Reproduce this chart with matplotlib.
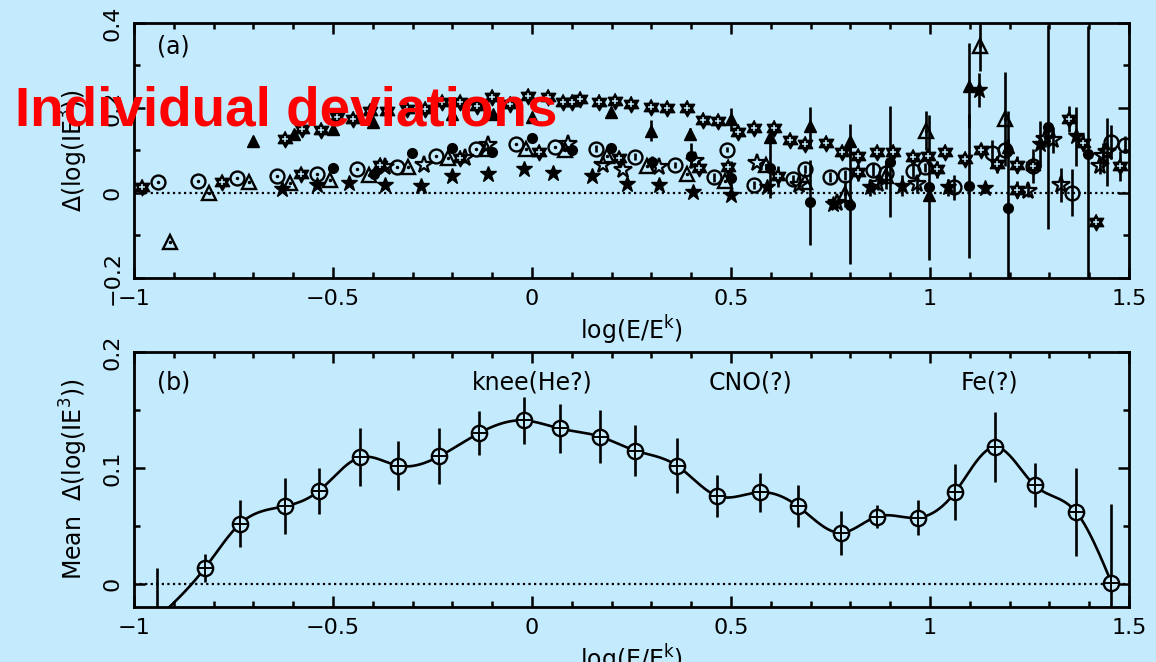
import numpy as np
import matplotlib.pyplot as plt
from matplotlib.ticker import MultipleLocator

plt.rcParams['font.family'] = ['DejaVu Sans']
plt.rcParams['mathtext.fontset'] = 'dejavusans'

BG = '#C3EBFD'

# ---- panel (a): individual deviations, one list per marker type ----
hex_x = [-0.981, -0.780, -0.621, -0.581, -0.579, -0.530, -0.491, -0.451, -0.407, -0.382,
         -0.365, -0.315, -0.269, -0.227, -0.181, -0.181, -0.139, -0.101, -0.055, -0.009,
         0.018, 0.041, 0.079, 0.100, 0.121, 0.169, 0.209, 0.219, 0.249, 0.299,
         0.338, 0.389, 0.420, 0.429, 0.468, 0.493, 0.518, 0.559, 0.609, 0.619,
         0.647, 0.686, 0.739, 0.778, 0.820, 0.820, 0.868, 0.908, 0.958, 0.996,
         1.017, 1.038, 1.088, 1.128, 1.168, 1.218, 1.218, 1.258, 1.348, 1.385,
         1.416, 1.477]
hex_y = [0.013, 0.025, 0.127, 0.045, 0.151, 0.148, 0.178, 0.174, 0.194, 0.066,
         0.194, 0.198, 0.198, 0.215, 0.213, 0.082, 0.205, 0.225, 0.209, 0.229,
         0.096, 0.225, 0.215, 0.213, 0.220, 0.213, 0.217, 0.082, 0.209, 0.202,
         0.200, 0.200, 0.058, 0.172, 0.170, 0.060, 0.144, 0.152, 0.154, 0.039,
         0.125, 0.115, 0.118, 0.097, 0.088, 0.049, 0.097, 0.097, 0.084, 0.088,
         0.056, 0.097, 0.080, 0.102, 0.068, 0.066, 0.008, 0.064, 0.174, 0.118,
         -0.069, 0.063]
hex_err = [0.008, 0, 0, 0, 0, 0, 0, 0, 0, 0,
           0, 0, 0, 0, 0, 0, 0, 0, 0, 0,
           0, 0, 0, 0, 0, 0, 0, 0, 0, 0,
           0, 0, 0, 0, 0, 0, 0, 0, 0, 0.025,
           0, 0, 0, 0, 0.01, 0.02, 0, 0, 0, 0.01,
           0.02, 0, 0.015, 0.015, 0.02, 0.02, 0.02, 0.02, 0.03, 0.02,
           0.01, 0.035]

tri_x = [-0.700, -0.598, -0.501, -0.400, -0.202, -0.097, -0.001, 0.198, 0.299, 0.397,
         0.499, 0.598, 0.698, 0.799, 0.997, 1.099, 1.197]
tri_y = [0.123, 0.139, 0.151, 0.166, 0.186, 0.186, 0.178, 0.190, 0.147, 0.139,
         0.174, 0.131, 0.158, 0.123, -0.005, 0.252, 0.108]
tri_err = [0, 0, 0, 0, 0, 0, 0, 0.012, 0.025, 0.015,
           0.027, 0.01, 0.045, 0.04, 0, 0.1, 0.02]

otri_x = [-0.910, -0.811, -0.710, -0.608, -0.508, -0.409, -0.311, -0.210, -0.116, -0.015,
          0.083, 0.189, 0.288, 0.389, 0.485, 0.588, 0.686, 0.786, 0.889, 0.989,
          1.126, 1.188]
otri_y = [-0.115, -0.001, 0.027, 0.023, 0.031, 0.042, 0.060, 0.082, 0.104, 0.104,
          0.100, 0.088, 0.064, 0.045, 0.029, 0.066, 0.025, -0.002, 0.040, 0.147,
          0.346, 0.174]
otri_err = [0, 0, 0, 0, 0, 0, 0, 0, 0, 0,
            0, 0, 0, 0, 0, 0, 0, 0.03, 0.03, 0.045,
            0.06, 0.11]

dcirc_x = [-0.939, -0.838, -0.740, -0.640, -0.541, -0.440, -0.340, -0.241, -0.141, -0.040,
           0.058]
dcirc_y = [0.027, 0.028, 0.035, 0.039, 0.045, 0.056, 0.060, 0.088, 0.104, 0.115,
           0.108]

ocirc_x = [0.160, 0.260, 0.359, 0.457, 0.489, 0.558, 0.657, 0.686, 0.749, 0.786,
           0.858, 0.889, 0.958, 0.987, 1.060, 1.157, 1.188, 1.258, 1.357, 1.456,
           1.490]
ocirc_y = [0.104, 0.085, 0.066, 0.037, 0.102, 0.019, 0.033, 0.056, 0.037, 0.042,
           0.055, 0.047, 0.052, 0.060, 0.013, 0.094, 0.102, 0.064, 0.001, 0.121,
           0.113]
ocirc_err = [0.008, 0.008, 0.008, 0.01, 0.006, 0.01, 0.01, 0.01, 0.012, 0.012,
             0.015, 0.02, 0.015, 0.01, 0.03, 0.03, 0.02, 0.04, 0.055, 0.04,
             0.02]

fcirc_x = [-0.499, -0.397, -0.302, -0.200, -0.101, -0.001, 0.100, 0.198, 0.301, 0.399,
           0.499, 0.598, 0.698, 0.799, 0.899, 0.997, 1.099, 1.197, 1.297, 1.398]
fcirc_y = [0.058, 0.045, 0.093, 0.107, 0.096, 0.129, 0.100, 0.105, 0.072, 0.088,
           0.035, 0.058, -0.022, -0.028, 0.074, 0.013, 0.017, -0.036, 0.155, 0.092]
fcirc_err = [0, 0, 0, 0, 0, 0, 0, 0.005, 0.015, 0.03,
             0.04, 0.07, 0.10, 0.14, 0.13, 0.17, 0.17, 0.23, 0.24, 0.30]

star_x = [-0.629, -0.541, -0.460, -0.369, -0.280, -0.200, -0.111, -0.020, 0.054, 0.150,
          0.239, 0.320, 0.405, 0.499, 0.590, 0.757, 0.849, 0.929, 1.046, 1.124,
          1.138, 1.276, 1.366]
star_y = [0.009, 0.019, 0.024, 0.019, 0.017, 0.039, 0.045, 0.056, 0.047, 0.041,
          0.021, 0.019, 0.003, -0.005, 0.015, -0.027, 0.013, 0.017, 0.013, 0.243,
          0.011, 0.115, 0.133]
star_err = [0, 0, 0, 0, 0, 0, 0, 0, 0, 0,
            0, 0, 0, 0, 0, 0, 0.02, 0.025, 0.02, 0.04,
            0.01, 0.055, 0.07]

ostar_x = [-0.369, -0.271, -0.168, -0.110, 0.091, 0.179, 0.229, 0.320, 0.410, 0.566,
           0.672, 0.766, 0.870, 0.968, 1.247, 1.289, 1.310, 1.328, 1.427, 1.435,
           1.444]
ostar_y = [0.060, 0.066, 0.082, 0.113, 0.115, 0.066, 0.054, 0.060, 0.076, 0.071,
           0.019, -0.024, 0.021, 0.021, 0.005, 0.128, 0.125, 0.019, 0.064, 0.088,
           0.096]
ostar_err = [0, 0, 0, 0, 0, 0, 0, 0, 0, 0,
             0.01, 0.01, 0.015, 0.02, 0.015, 0.02, 0.03, 0.04, 0.02, 0.03,
             0.08]

# ---- panel (b): mean deviation per energy bin ----
mean_x = [-0.942, -0.822, -0.733, -0.620, -0.536, -0.433, -0.337, -0.233, -0.133, -0.021,
          0.070, 0.171, 0.259, 0.364, 0.464, 0.573, 0.668, 0.776, 0.867, 0.970,
          1.063, 1.164, 1.263, 1.367, 1.456]
mean_y = [-0.030, 0.0135, 0.052, 0.067, 0.080, 0.109, 0.102, 0.110, 0.130, 0.141,
          0.134, 0.127, 0.115, 0.102, 0.076, 0.079, 0.067, 0.044, 0.058, 0.057,
          0.079, 0.118, 0.085, 0.062, 0.001]
mean_err = [0.0435, 0.012, 0.020, 0.024, 0.020, 0.025, 0.021, 0.024, 0.019, 0.020,
            0.021, 0.023, 0.022, 0.024, 0.018, 0.017, 0.018, 0.019, 0.010, 0.015,
            0.024, 0.030, 0.019, 0.038, 0.068]

x_ticks = [-1, -0.5, 0, 0.5, 1, 1.5]
x_tick_labels = ['\u22121', '\u22120.5', '0', '0.5', '1', '1.5']
a_y_ticks = [-0.2, 0, 0.2, 0.4]
a_y_tick_labels = ['\u22120.2', '0', '0.2', '0.4']
b_y_ticks = [0, 0.1, 0.2]
b_y_tick_labels = ['0', '0.1', '0.2']
b_notes = [(0.0, 'knee(He?)'), (0.548, 'CNO(?)'), (1.15, 'Fe(?)')]

TICK_FS = 16
TEXT_FS = 17

# six-pointed star outline used as a marker
_ang = np.deg2rad(90 + 30 * np.arange(12))
_rad = np.where(np.arange(12) % 2 == 0, 1.0, 1 / np.sqrt(3))
HEXAGRAM = list(zip(_rad * np.cos(_ang), _rad * np.sin(_ang)))


def natural_spline(x, y, n=600):
    """Natural cubic spline through the bin means."""
    x = np.asarray(x, float)
    y = np.asarray(y, float)
    m = len(x)
    h = np.diff(x)
    A = np.zeros((m, m))
    r = np.zeros(m)
    A[0, 0] = A[-1, -1] = 1.0
    for i in range(1, m - 1):
        A[i, i - 1] = h[i - 1]
        A[i, i] = 2 * (h[i - 1] + h[i])
        A[i, i + 1] = h[i]
        r[i] = 3 * ((y[i + 1] - y[i]) / h[i] - (y[i] - y[i - 1]) / h[i - 1])
    c = np.linalg.solve(A, r)
    b = (y[1:] - y[:-1]) / h - h * (2 * c[:-1] + c[1:]) / 3
    d = (c[1:] - c[:-1]) / (3 * h)
    xs = np.linspace(x[0], x[-1], n)
    idx = np.clip(np.searchsorted(x, xs) - 1, 0, m - 2)
    t = xs - x[idx]
    ys = y[idx] + b[idx] * t + c[idx] * t ** 2 + d[idx] * t ** 3
    return xs, ys


def style_axes(ax):
    ax.set_facecolor(BG)
    for sp in ax.spines.values():
        sp.set_linewidth(2.0)
    ax.tick_params(which='both', direction='in', top=True, right=True,
                   width=1.8, labelsize=TICK_FS, pad=8)
    ax.tick_params(which='major', length=8)
    ax.tick_params(which='minor', length=4)
    ax.set_xlim(-1, 1.5)
    ax.set_xticks(x_ticks)
    ax.set_xticklabels(x_tick_labels)
    ax.xaxis.set_minor_locator(MultipleLocator(0.1))
    ax.axhline(0, color='black', ls=(0, (1, 1.5)), lw=1.6, zorder=1)


fig = plt.figure(figsize=(11.56, 6.62), dpi=100, facecolor=BG)
ax_a = fig.add_axes([134 / 1156, 1 - 278 / 662, 995 / 1156, 255 / 662])
ax_b = fig.add_axes([134 / 1156, 1 - 607 / 662, 995 / 1156, 255 / 662])

# ---- (a) ----
style_axes(ax_a)
ax_a.set_ylim(-0.2, 0.4)
ax_a.set_yticks(a_y_ticks)
ax_a.set_yticklabels(a_y_tick_labels, rotation=90, va='center')
ax_a.yaxis.set_minor_locator(MultipleLocator(0.1))

eb = dict(fmt='none', ecolor='black', elinewidth=1.9, capsize=0, zorder=2)
for xs, ys, es in [(hex_x, hex_y, hex_err), (tri_x, tri_y, tri_err),
                   (otri_x, otri_y, otri_err), (ocirc_x, ocirc_y, ocirc_err),
                   (fcirc_x, fcirc_y, fcirc_err), (star_x, star_y, star_err),
                   (ostar_x, ostar_y, ostar_err)]:
    ax_a.errorbar(xs, ys, yerr=es, **eb)

ax_a.plot(hex_x, hex_y, ls='none', marker=HEXAGRAM, ms=12, color='black', zorder=3)
ax_a.plot(hex_x, hex_y, ls='none', marker='+', ms=4, mew=1.1, color=BG, zorder=4)
ax_a.plot(tri_x, tri_y, ls='none', marker='^', ms=8, color='black', zorder=3)
ax_a.plot(otri_x, otri_y, ls='none', marker='^', ms=10, mfc='none', mec='black', mew=1.7, zorder=3)
ax_a.plot(otri_x, otri_y, ls='none', marker='.', ms=3, color='black', zorder=3)
ax_a.plot(dcirc_x, dcirc_y, ls='none', marker='o', ms=10, mfc='none', mec='black', mew=1.7, zorder=3)
ax_a.plot(dcirc_x, dcirc_y, ls='none', marker='.', ms=3, color='black', zorder=3)
ax_a.plot(ocirc_x, ocirc_y, ls='none', marker='o', ms=10, mfc='none', mec='black', mew=1.7, zorder=3)
ax_a.plot(fcirc_x, fcirc_y, ls='none', marker='o', ms=7, color='black', zorder=3)
ax_a.plot(star_x, star_y, ls='none', marker='*', ms=12, color='black', zorder=3)
ax_a.plot(ostar_x, ostar_y, ls='none', marker='*', ms=13, mfc='none', mec='black', mew=1.6, zorder=3)

ax_a.text(-0.902, 0.344, '(a)', fontsize=TEXT_FS, ha='center', va='center')
ax_a.set_xlabel(r'log(E/E$^{\mathrm{k}}$)', fontsize=TEXT_FS, labelpad=3)
ax_a.set_ylabel(r'$\Delta$(log(IE$^{3}$))', fontsize=TEXT_FS)
ax_a.yaxis.set_label_coords(-0.044, 0.5)

# ---- (b) ----
style_axes(ax_b)
ax_b.set_ylim(-0.02, 0.2)
ax_b.set_yticks(b_y_ticks)
ax_b.set_yticklabels(b_y_tick_labels, rotation=90, va='center')
ax_b.yaxis.set_minor_locator(MultipleLocator(0.05))

sx, sy = natural_spline(mean_x, mean_y)
ax_b.plot(sx, sy, color='black', lw=1.9, zorder=3)
ax_b.errorbar(mean_x, mean_y, yerr=mean_err, **eb)
ax_b.plot(mean_x, mean_y, ls='none', marker='o', ms=11, mfc=BG, mec='black', mew=1.7, zorder=4)
ax_b.plot(mean_x, mean_y, ls='none', marker='+', ms=11, color='black', mew=1.4, zorder=5)

ax_b.text(-0.9, 0.174, '(b)', fontsize=TEXT_FS, ha='center', va='center')
for nx, label in b_notes:
    ax_b.text(nx, 0.174, label, fontsize=TEXT_FS, ha='center', va='center')
ax_b.set_xlabel(r'log(E/E$^{\mathrm{k}}$)', fontsize=TEXT_FS, labelpad=3)
ax_b.set_ylabel(r'Mean  $\Delta$(log(IE$^{3}$))', fontsize=TEXT_FS)
ax_b.yaxis.set_label_coords(-0.044, 0.5)

fig.text(15 / 1156, 1 - 126 / 662, 'Individual deviations', color='#FF0000',
         fontsize=39.5, fontweight='bold', family=['Liberation Sans', 'DejaVu Sans'],
         ha='left', va='baseline')

fig.savefig('out.png', dpi=100, facecolor=BG)
